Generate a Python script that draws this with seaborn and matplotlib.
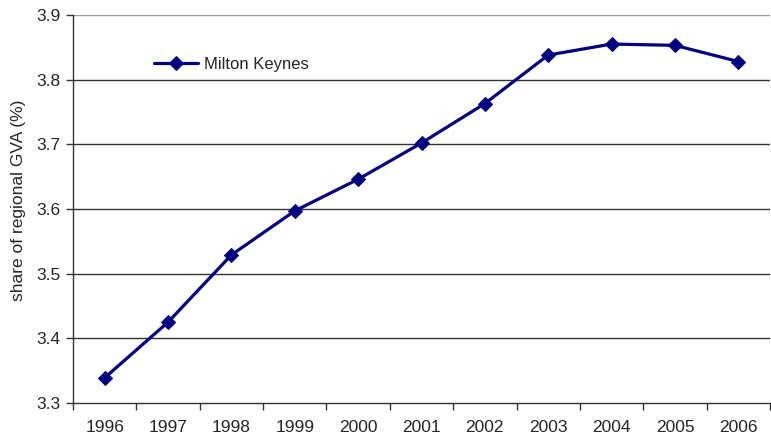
import matplotlib
matplotlib.use("Agg")
import matplotlib.pyplot as plt
import numpy as np
import pandas as pd
import seaborn as sns

years = ["1996", "1997", "1998", "1999", "2000", "2001",
         "2002", "2003", "2004", "2005", "2006"]
share = [3.339, 3.425, 3.529, 3.597, 3.646, 3.702,
         3.763, 3.838, 3.855, 3.853, 3.828]
y_ticks = [3.3, 3.4, 3.5, 3.6, 3.7, 3.8, 3.9]

df = pd.DataFrame({"year": years, "share": share})

sns.set_theme(style="white")
plt.rcParams["font.family"] = ["Liberation Sans", "DejaVu Sans"]

fig = plt.figure(figsize=(7.71, 4.36), dpi=100)
ax = fig.add_axes([0.0947, 0.0757, 0.904, 0.89])

# horizontal gridlines, Excel style
for v in y_ticks[1:]:
    ax.axhline(v, color="#999999" if v == 3.9 else "#333333", linewidth=1.0, zorder=1)

sns.lineplot(data=df, x="year", y="share", ax=ax, color="#000080",
             linewidth=2.3, marker="D", markersize=7, markeredgecolor="#000080",
             label="Milton Keynes", sort=False, zorder=3)

n = len(years)
ax.set_xlim(-0.5, n - 0.5)
ax.set_ylim(3.3, 3.9)
ax.set_yticks(y_ticks)
ax.set_yticklabels([f"{v:.1f}" for v in y_ticks], fontsize=12.5)
ax.set_xticks(np.arange(n))
ax.set_xticklabels(years, fontsize=12.5)
ax.set_xticks(np.arange(n + 1) - 0.5, minor=True)
ax.tick_params(axis="x", which="major", length=0, pad=12)
ax.tick_params(axis="x", which="minor", length=5, width=1, color="#333333", direction="out", bottom=True)
ax.tick_params(axis="y", length=5, width=1, color="#333333", direction="out", left=True, pad=4)

ax.set_xlabel("")
ax.set_ylabel("share of regional GVA (%)", fontsize=12.5)
ax.yaxis.set_label_coords(-0.067, 0.523)

for s in ["top", "right"]:
    ax.spines[s].set_visible(False)
for s in ["left", "bottom"]:
    ax.spines[s].set_color("#333333")
    ax.spines[s].set_linewidth(1.0)

ax.legend(loc="upper left", bbox_to_anchor=(0.095, 0.93), frameon=False,
          fontsize=12, handlelength=2.6, handletextpad=0.4)

fig.savefig("out.png", dpi=100)
